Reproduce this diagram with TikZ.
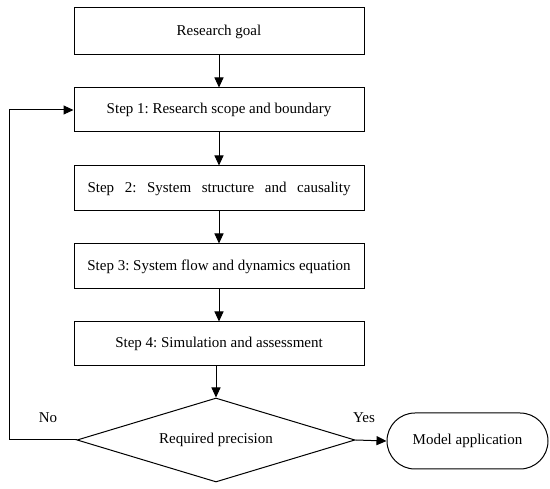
\documentclass[tikz,border=0pt]{standalone}
\usepackage{fontspec}
\setmainfont{Liberation Serif}
\usetikzlibrary{arrows.meta,shapes.geometric,shapes.misc}
\begin{document}
\frenchspacing
\begin{tikzpicture}[x=1pt,y=-1pt,
  font=\fontsize{15}{18}\selectfont,
  stepbox/.style={draw, line width=1pt, minimum width=290pt, inner sep=0pt},
  arr/.style={line width=1pt, -{Triangle[length=10pt,width=9pt]}},
  line/.style={line width=1pt}]
\useasboundingbox (0,0) rectangle (550,489);
\node[stepbox, minimum height=47pt] (goal) at (219,31.5) {Research goal};
\node[stepbox, minimum height=44pt] (s1) at (219,110) {Step 1: Research scope and boundary};
\node[stepbox, minimum height=45pt] (s2) at (219,188.5) {\makebox[263pt][s]{Step 2: System structure and causality}};
\node[stepbox, minimum height=45pt] (s3) at (219,266.5) {Step 3: System flow and dynamics equation};
\node[stepbox, minimum height=44pt] (s4) at (219,344) {Step 4: Simulation and assessment};
\node[draw, line width=1pt, shape=diamond, aspect=3.3, minimum width=278pt, minimum height=84pt, inner sep=0pt] (dec) at (216,440) {Required precision};
\node[draw, line width=1pt, rounded rectangle, minimum width=161pt, minimum height=56pt, inner sep=0pt] (app) at (467.5,441) {Model application};
\coordinate (loop) at (9,440);
\node (no) at (48,418) {No};
\node (yes) at (364,418) {Yes};
\draw[arr] (goal.south) -- (s1.north);
\draw[arr] (s1.south) -- (s2.north);
\draw[arr] (s2.south) -- (s3.north);
\draw[arr] (s3.south) -- (s4.north);
\draw[arr] (dec.north |- s4.south) -- (dec.north);
\draw[arr] (dec.east) -- (app.west);
\draw[line] (dec.west) -- (loop);
\draw[arr] (loop) |- (s1.west);
\end{tikzpicture}
\end{document}
